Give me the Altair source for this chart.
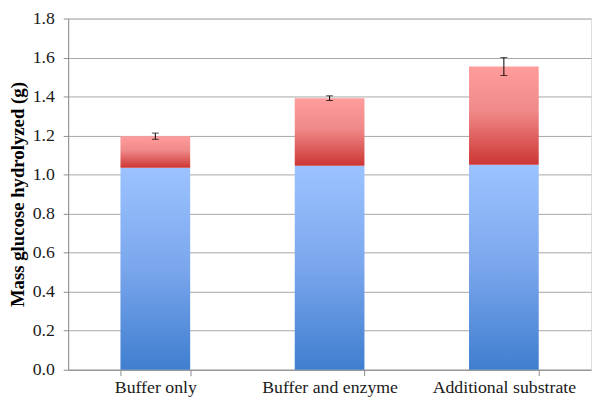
import altair as alt
import pandas as pd

categories = ["Buffer only", "Buffer and enzyme", "Additional substrate"]
base_values = [1.035, 1.045, 1.051]
total_values = [1.197, 1.392, 1.554]
error_values = [0.016, 0.012, 0.046]
y_ticks = [0.0, 0.2, 0.4, 0.6, 0.8, 1.0, 1.2, 1.4, 1.6, 1.8]

df = pd.DataFrame({
    "cat": categories,
    "base": base_values,
    "total": total_values,
    "lo": [t - e for t, e in zip(total_values, error_values)],
    "hi": [t + e for t, e in zip(total_values, error_values)],
})

FONT = "Liberation Serif"

x_enc = alt.X(
    "cat:N", sort=categories, title=None,
    scale=alt.Scale(paddingInner=0.6, paddingOuter=0.3),
    axis=alt.Axis(labelAngle=0, tickBand="extent", tickSize=6, labelPadding=3,
                  domainColor="#8c8c8c", tickColor="#8c8c8c", labelFontSize=18,
                  labelFont=FONT, labelColor="#1a1a1a", labelOverlap=False),
)
y_scale = alt.Scale(domain=[0, 1.8], nice=False)

blue_grad = alt.Gradient(
    gradient="linear", x1=0, x2=0, y1=0, y2=1,
    stops=[alt.GradientStop(offset=0, color="#9cc3ff"),
           alt.GradientStop(offset=0.5, color="#7aa6ec"),
           alt.GradientStop(offset=1, color="#3f7ecf")],
)
red_grad = alt.Gradient(
    gradient="linear", x1=0, x2=0, y1=0, y2=1,
    stops=[alt.GradientStop(offset=0, color="#ff9c9c"),
           alt.GradientStop(offset=0.45, color="#f08a8a"),
           alt.GradientStop(offset=1, color="#cc3633")],
)

base = alt.Chart(df)

blue = base.mark_bar(color=blue_grad).encode(
    x=x_enc,
    y=alt.Y("base:Q", scale=y_scale, title="Mass glucose hydrolyzed (g)",
            axis=alt.Axis(values=y_ticks, tickCount=20, format=".1f", grid=True,
                          gridColor="#a6a6a6", domainColor="#8c8c8c",
                          tickColor="#8c8c8c", tickSize=5, labelPadding=9,
                          labelFontSize=18, labelFont=FONT, labelColor="#1a1a1a",
                          labelOverlap=False,
                          titleFont=FONT, titleFontSize=19, titleFontWeight="bold",
                          titleColor="#000000", titlePadding=5)),
    y2=alt.Y2("zero:Q"),
).transform_calculate(zero="0")

red = base.mark_bar(color=red_grad).encode(
    x=alt.X("cat:N", sort=categories),
    y=alt.Y("total:Q", scale=y_scale),
    y2="base:Q",
)

rule = base.mark_rule(color="#000000", strokeWidth=1).encode(
    x=alt.X("cat:N", sort=categories),
    y=alt.Y("lo:Q", scale=y_scale),
    y2="hi:Q",
)
cap_lo = base.mark_tick(color="#000000", size=7, thickness=1).encode(
    x=alt.X("cat:N", sort=categories),
    y=alt.Y("lo:Q", scale=y_scale),
)
cap_hi = base.mark_tick(color="#000000", size=7, thickness=1).encode(
    x=alt.X("cat:N", sort=categories),
    y=alt.Y("hi:Q", scale=y_scale),
)

chart = alt.layer(blue, red, rule, cap_lo, cap_hi).properties(
    width=530, height=356,
    autosize=alt.AutoSizeParams(type="none"),
    padding={"left": 61, "top": 8, "right": 1, "bottom": 28},
).configure_view(stroke=None).configure(background="white")

chart.save("out.html", embed_options={"renderer": "svg", "actions": False})
